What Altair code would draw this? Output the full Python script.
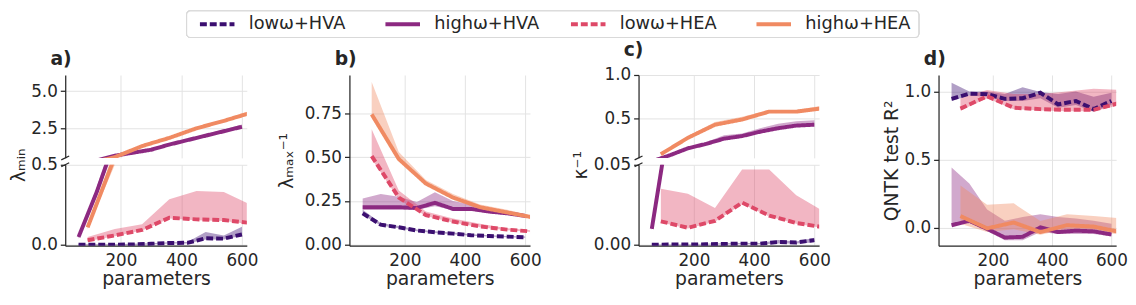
import altair as alt
import pandas as pd

SERIES = ["lowω+HVA", "highω+HVA", "lowω+HEA", "highω+HEA"]
COLORS = ["#3b0f70", "#8c2981", "#de4968", "#f08a62"]
DASHES = [[7, 3], [1, 0], [7, 3], [1, 0]]

HVA_X = [60, 120, 180, 240, 300, 360, 420, 480, 540, 600]
HEA_X = [90, 180, 270, 360, 450, 540, 630]
X_TICKS = [200, 400, 600]

# ---- panel a: lambda_min
A_LHVA = [0.002, 0.002, 0.002, 0.004, 0.008, 0.013, 0.014, 0.042, 0.040, 0.066]
A_LHVA_LO = [0.0, 0.0, 0.0, 0.001, 0.004, 0.009, 0.010, 0.035, 0.034, 0.058]
A_LHVA_HI = [0.005, 0.005, 0.005, 0.008, 0.012, 0.017, 0.019, 0.082, 0.060, 0.114]
A_HHVA = [0.05, 0.33, 0.65, 0.85, 1.05, 1.4, 1.7, 2.0, 2.3, 2.6]
A_HHVA_LO = [0.04, 0.30, 0.62, 0.80, 0.98, 1.32, 1.62, 1.92, 2.22, 2.5]
A_HHVA_HI = [0.06, 0.36, 0.70, 0.92, 1.12, 1.48, 1.80, 2.12, 2.42, 2.75]
A_LHEA = [0.03, 0.06, 0.094, 0.17, 0.16, 0.156, 0.137]
A_LHEA_LO = [0.025, 0.055, 0.09, 0.165, 0.155, 0.15, 0.13]
A_LHEA_HI = [0.05, 0.10, 0.13, 0.286, 0.336, 0.33, 0.25]
A_HHEA = [0.11, 0.55, 1.3, 1.85, 2.5, 3.0, 3.55]
A_HHEA_LO = [0.10, 0.50, 1.22, 1.78, 2.42, 2.92, 3.45]
A_HHEA_HI = [0.12, 0.60, 1.38, 1.95, 2.60, 3.10, 3.70]

# ---- panel b: 1/lambda_max
B_LHVA = [0.18, 0.115, 0.10, 0.082, 0.072, 0.064, 0.055, 0.05, 0.047, 0.043]
B_LHVA_LO = [0.17, 0.11, 0.095, 0.078, 0.068, 0.06, 0.052, 0.047, 0.044, 0.04]
B_LHVA_HI = [0.20, 0.125, 0.108, 0.088, 0.078, 0.07, 0.06, 0.055, 0.051, 0.047]
B_HHVA = [0.215, 0.215, 0.215, 0.21, 0.24, 0.205, 0.205, 0.19, 0.18, 0.165]
B_HHVA_LO = [0.20, 0.20, 0.20, 0.20, 0.22, 0.20, 0.20, 0.18, 0.17, 0.16]
B_HHVA_HI = [0.265, 0.29, 0.275, 0.245, 0.30, 0.25, 0.23, 0.21, 0.195, 0.175]
B_LHEA = [0.507, 0.27, 0.17, 0.133, 0.105, 0.087, 0.075]
B_LHEA_LO = [0.49, 0.26, 0.165, 0.128, 0.10, 0.083, 0.072]
B_LHEA_HI = [0.66, 0.31, 0.19, 0.15, 0.12, 0.095, 0.082]
B_HHEA = [0.745, 0.49, 0.35, 0.27, 0.215, 0.185, 0.155]
B_HHEA_LO = [0.73, 0.48, 0.34, 0.26, 0.21, 0.18, 0.15]
B_HHEA_HI = [0.93, 0.53, 0.37, 0.29, 0.23, 0.20, 0.165]

# ---- panel c: 1/kappa
C_LHVA = [0.0001, 0.0002, 0.0002, 0.0004, 0.0006, 0.0008, 0.0008, 0.0018, 0.0015, 0.003]
C_LHVA_LO = [0.0, 0.0001, 0.0001, 0.0002, 0.0003, 0.0004, 0.0004, 0.0009, 0.0008, 0.0015]
C_LHVA_HI = [0.0003, 0.0004, 0.0004, 0.0007, 0.001, 0.0012, 0.0012, 0.003, 0.0022, 0.0045]
C_HHVA = [0.01, 0.08, 0.16, 0.21, 0.27, 0.30, 0.35, 0.39, 0.42, 0.43]
C_HHVA_LO = [0.009, 0.075, 0.155, 0.205, 0.265, 0.295, 0.345, 0.385, 0.415, 0.425]
C_HHVA_HI = [0.012, 0.09, 0.17, 0.23, 0.31, 0.33, 0.39, 0.44, 0.47, 0.48]
C_LHEA = [0.0147, 0.0107, 0.015, 0.0264, 0.0183, 0.0137, 0.011]
C_LHEA_LO = [0.014, 0.0102, 0.0145, 0.0255, 0.0178, 0.0132, 0.0105]
C_LHEA_HI = [0.035, 0.032, 0.023, 0.047, 0.047, 0.031, 0.021]
C_HHEA = [0.092, 0.28, 0.43, 0.49, 0.58, 0.58, 0.62]
C_HHEA_LO = [0.085, 0.27, 0.42, 0.48, 0.57, 0.57, 0.60]
C_HHEA_HI = [0.10, 0.30, 0.46, 0.52, 0.60, 0.60, 0.65]

# ---- panel d: QNTK test R^2
D_LHVA = [0.945, 0.983, 0.98, 0.945, 0.95, 0.99, 0.905, 0.93, 0.87, 0.93]
D_LHVA_LO = [0.93, 0.97, 0.96, 0.93, 0.93, 0.95, 0.88, 0.90, 0.85, 0.90]
D_LHVA_HI = [1.063, 1.0, 1.0, 0.98, 1.03, 0.995, 0.98, 1.0, 0.96, 0.99]
D_HHVA = [0.02, 0.052, -0.007, -0.07, -0.065, 0.004, -0.03, -0.02, -0.025, -0.048]
D_HHVA_LO = [0.015, 0.04, -0.02, -0.09, -0.09, -0.03, -0.045, -0.045, -0.045, -0.06]
D_HHVA_HI = [0.443, 0.325, 0.135, 0.052, 0.08, 0.10, 0.08, 0.07, 0.052, 0.03]
D_LHEA = [0.874, 0.964, 0.88, 0.87, 0.865, 0.865, 0.917]
D_LHEA_LO = [0.86, 0.95, 0.87, 0.86, 0.855, 0.855, 0.90]
D_LHEA_HI = [0.95, 1.01, 0.98, 0.98, 1.0, 1.02, 1.01]
D_HHEA = [0.087, -0.003, 0.04, -0.03, 0.02, 0.01, -0.03]
D_HHEA_LO = [0.03, -0.03, -0.01, -0.05, -0.01, -0.02, -0.05]
D_HHEA_HI = [0.31, 0.17, 0.18, 0.05, 0.10, 0.087, 0.07]


def frame(groups):
    rows = []
    for name, xs, mid, lo, hi in groups:
        for x, m, l, h in zip(xs, mid, lo, hi):
            rows.append({"x": x, "y": m, "lo": l, "hi": h, "series": name})
    return pd.DataFrame(rows)


def panel_df(p):
    g = globals()
    return frame([
        (SERIES[0], HVA_X, g[p + "_LHVA"], g[p + "_LHVA_LO"], g[p + "_LHVA_HI"]),
        (SERIES[1], HVA_X, g[p + "_HHVA"], g[p + "_HHVA_LO"], g[p + "_HHVA_HI"]),
        (SERIES[2], HEA_X, g[p + "_LHEA"], g[p + "_LHEA_LO"], g[p + "_LHEA_HI"]),
        (SERIES[3], HEA_X, g[p + "_HHEA"], g[p + "_HHEA_LO"], g[p + "_HHEA_HI"]),
    ])


FONT = "DejaVu Sans"
INK = "#262626"
XDOM = [16, 616]
H = 173          # full panel plot height
H_UP, H_LOW, GAP = 84, 82, 7

stroke_scale = alt.Scale(domain=SERIES, range=COLORS)
dash_scale = alt.Scale(domain=SERIES, range=DASHES)


def y_axis(values, fmt, title=None, title_x=None, title_y=None):
    kw = dict(values=values, format=fmt, tickSize=5, labelPadding=3, grid=True)
    if title is not None:
        kw["title"] = title
        kw["titleX"] = title_x
        if title_y is not None:
            kw["titleY"] = title_y
    else:
        kw["title"] = None
    return alt.Axis(**kw)


def x_axis(show):
    if show:
        return alt.Axis(values=X_TICKS, title="parameters", ticks=False,
                        labelPadding=7, grid=True, titlePadding=1)
    return alt.Axis(values=X_TICKS, title=None, ticks=False, labels=False,
                    domain=False, grid=True)


def view(df, ydom, yax, show_x, width, height, title=None, brk=None):
    xenc = alt.X("x:Q", scale=alt.Scale(domain=XDOM, nice=False, zero=False),
                 axis=x_axis(show_x))
    ysc = alt.Scale(domain=ydom, nice=False, zero=False)
    base = alt.Chart(df)
    band = base.mark_area(opacity=0.4, clip=True).encode(
        x=xenc,
        y=alt.Y("lo:Q", scale=ysc, axis=yax),
        y2="hi:Q",
        fill=alt.Fill("series:N", scale=stroke_scale, legend=None),
    )
    line = base.mark_line(strokeWidth=4, clip=True, strokeCap="butt").encode(
        x=xenc,
        y=alt.Y("y:Q", scale=ysc, axis=yax),
        stroke=alt.Stroke("series:N", scale=stroke_scale, legend=None),
        strokeDash=alt.StrokeDash("series:N", scale=dash_scale, legend=None),
    )
    layers = [band, line]
    if brk is not None:
        mark = alt.Chart(pd.DataFrame({"k": [0]})).mark_rule(
            color=INK, strokeWidth=1.2, clip=False
        ).encode(x=alt.value(-4), x2=alt.value(4),
                 y=alt.value(brk + 2), y2=alt.value(brk - 2))
        layers.append(mark)
    ch = alt.layer(*layers).properties(width=width, height=height)
    if title:
        ch = ch.properties(title=alt.TitleParams(
            title, anchor="start", frame="group", dx=-15, fontSize=19,
            fontWeight="bold", font=FONT, color=INK, offset=6))
    return ch


dfa, dfb, dfc, dfd = panel_df("A"), panel_df("B"), panel_df("C"), panel_df("D")

a_up = view(dfa, [0.5, 6.1], y_axis([2.5, 5.0], ".1f", "λₘᵢₙ", -37, 91), False,
            184, H_UP, "a)", brk=H_UP)
a_low = view(dfa, [-0.004, 0.5], y_axis([0.0, 0.5], ".1f"), True, 184, H_LOW, brk=0)
panel_a = alt.vconcat(a_up, a_low, spacing=GAP, bounds="flush")

panel_b = view(dfb, [-0.005, 0.97],
               y_axis([0.0, 0.25, 0.5, 0.75], ".2f", "λₘₐₓ⁻¹", -54),
               True, 183, H, "b)")

c_up = view(dfc, [0.05, 1.0], y_axis([0.5, 1.0], ".1f", "κ⁻¹", -49, 91), False,
            183, H_UP, "c)", brk=H_UP)
c_low = view(dfc, [-0.0005, 0.05], y_axis([0.0, 0.05], ".2f"), True, 183, H_LOW, brk=0)
panel_c = alt.vconcat(c_up, c_low, spacing=GAP, bounds="flush")

panel_d = view(dfd, [-0.13, 1.12],
               y_axis([0.0, 0.5, 1.0], ".1f", "QNTK test R²", -38),
               True, 180, H, "d)")

row = alt.hconcat(
    alt.hconcat(alt.hconcat(panel_a, panel_b, spacing=19), panel_c, spacing=30),
    panel_d, spacing=52)

# ---- legend drawn as its own small view (its origin sits at panel a's plot edge)
LEG_W, LEG_H = 880, 27
leg_df = pd.DataFrame({"series": SERIES})
leg_x = alt.X("series:N", scale=alt.Scale(type="point", domain=SERIES,
                                          range=[154, 718], padding=0), axis=None)
leg_box = alt.Chart(leg_df).mark_rect(
    fill="white", stroke="#d9d9d9", strokeWidth=1.2, cornerRadius=4
).encode(x=alt.value(123), x2=alt.value(865), y=alt.value(0), y2=alt.value(LEG_H))
leg_sym = alt.Chart(leg_df).mark_rule(
    strokeWidth=4, xOffset=-17.5, x2Offset=17.5, strokeCap="butt"
).encode(
    x=leg_x, x2=alt.X2("series:N"), y=alt.value(LEG_H / 2),
    stroke=alt.Stroke("series:N", scale=stroke_scale, legend=None),
    strokeDash=alt.StrokeDash("series:N", scale=dash_scale, legend=None),
)
leg_txt = alt.Chart(leg_df).mark_text(
    align="left", baseline="middle", dx=32, fontSize=18, font=FONT, color=INK
).encode(x=leg_x, y=alt.value(LEG_H / 2), text="series:N")
legend = alt.layer(leg_box, leg_sym, leg_txt).properties(width=LEG_W, height=LEG_H)

chart = alt.vconcat(legend, row, spacing=3).properties(
    padding={"left": 2, "top": 0, "right": 0, "bottom": 0}
).configure(font=FONT).configure_view(stroke=None).configure_axis(
    domainColor=INK, domainWidth=1.25, tickColor=INK, tickWidth=1.25,
    gridColor="#e3e3e3", gridWidth=1, labelFont=FONT, titleFont=FONT,
    labelFontSize=17, titleFontSize=19, labelColor=INK, titleColor=INK,
    titleFontWeight="normal",
)

chart.save("out.html", embed_options={"renderer": "svg", "actions": False})
